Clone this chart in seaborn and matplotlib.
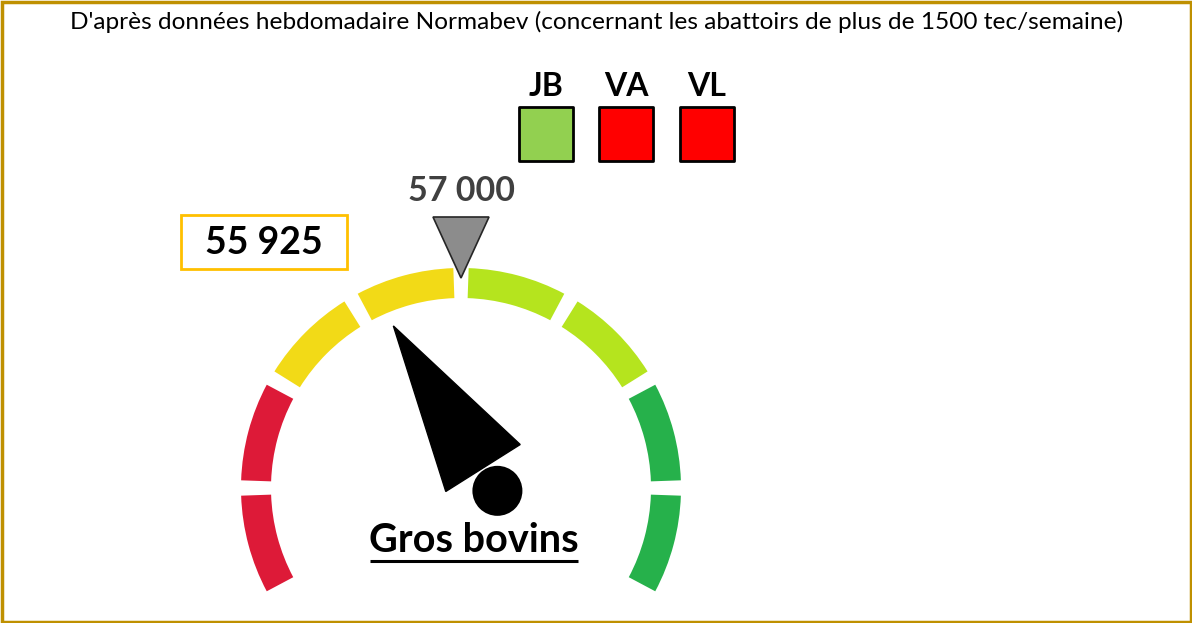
import numpy as np
import pandas as pd
import matplotlib.pyplot as plt
import seaborn as sns
from matplotlib.patches import Wedge, Polygon, Circle, Rectangle

# gauge data
value = 55925
target = 57000
gauge_min = 53000
gauge_max = 61000
segment_colors = ["#DD1A38", "#DD1A38", "#F2DA17", "#F2DA17",
                  "#B5E41E", "#B5E41E", "#26B14B", "#26B14B"]

# status squares
categories = ["JB", "VA", "VL"]
status_colors = ["#92D050", "#FF0000", "#FF0000"]

title = "D'après données hebdomadaire Normabev (concernant les abattoirs de plus de 1500 tec/semaine)"
gauge_label = "Gros bovins"


def fmt(v):
    return f"{v:,}".replace(",", " ")


sns.set_theme(style="white")
plt.rcParams['font.family'] = ['Lato', 'DejaVu Sans']

fig = plt.figure(figsize=(11.92, 6.23), dpi=100)
ax = fig.add_axes([0, 0, 1, 1])
ax.set_xlim(0, 1192)
ax.set_ylim(623, 0)
ax.axis('off')

# gauge arc (screen angles, y axis is inverted so data angle = -angle)
cx, cy = 461, 488
r_out, r_w = 220, 30
span = 240
start = 90 + span / 2
seg = span / len(segment_colors)
for i, c in enumerate(segment_colors):
    a1 = start - seg * (i + 1) + 2
    a2 = start - seg * i - 2
    ax.add_patch(Wedge((cx, cy), r_out, -a2, -a1, width=r_w, facecolor=c, edgecolor='none'))

# target marker
def to_angle(v):
    return np.radians(start - (v - gauge_min) / (gauge_max - gauge_min) * span)

ta = to_angle(target)
tx, ty = cx + (r_out - 10) * np.cos(ta), cy - (r_out - 10) * np.sin(ta)
ax.add_patch(Polygon([[tx - 28, ty - 61], [tx + 28, ty - 61], [tx, ty]],
                     closed=True, facecolor="#8C8C8C", edgecolor="#262626", lw=1.2))
ax.text(tx + 1, 191, fmt(target), ha='center', va='center', fontsize=24.5,
        fontweight='bold', color="#404040")

# needle
va_ = to_angle(value)
px, py = 483, 468
d = np.array([np.cos(va_), -np.sin(va_)])
n = np.array([-d[1], d[0]])
tip = np.array([px, py]) + 168 * d
b1 = np.array([px, py]) + 44 * n
b2 = np.array([px, py]) - 44 * n
ax.add_patch(Polygon([tip, b1, b2], closed=True, facecolor='black', edgecolor='black'))
pc = np.array([px, py]) - 27 * d
ax.add_patch(Circle(pc, 25, facecolor='black', edgecolor='none'))

# value box
ax.add_patch(Rectangle((181, 215), 166, 54, facecolor='white', edgecolor="#FFC000", lw=2))
ax.text(264, 243, fmt(value), ha='center', va='center', fontsize=27, fontweight='bold', color='black')

# status squares
sq = pd.DataFrame({"cat": categories, "x": [546, 626, 707], "y": [134, 134, 134]})
sns.scatterplot(data=sq, x="x", y="y", hue="cat", palette=status_colors, marker='s',
                s=1480, edgecolor='black', linewidth=2, legend=False, ax=ax, zorder=3)
for c, x in zip(categories, sq["x"]):
    ax.text(x, 86, c, ha='center', va='center', fontsize=23, fontweight='bold', color='black')

# labels
ax.text(597, 22, title, ha='center', va='center', fontsize=17.6, color='black')
ax.text(474, 541, gauge_label, ha='center', va='center', fontsize=28.5, fontweight='bold', color='black')
ax.plot([370, 578], [561, 561], color='black', lw=2.2, solid_capstyle='butt')

# frame
ax.add_patch(Rectangle((1.5, 1.5), 1189, 620, facecolor='none', edgecolor="#BF9000", lw=2.5))

ax.set_xlim(0, 1192)
ax.set_ylim(623, 0)
fig.savefig("out.png", dpi=100)
